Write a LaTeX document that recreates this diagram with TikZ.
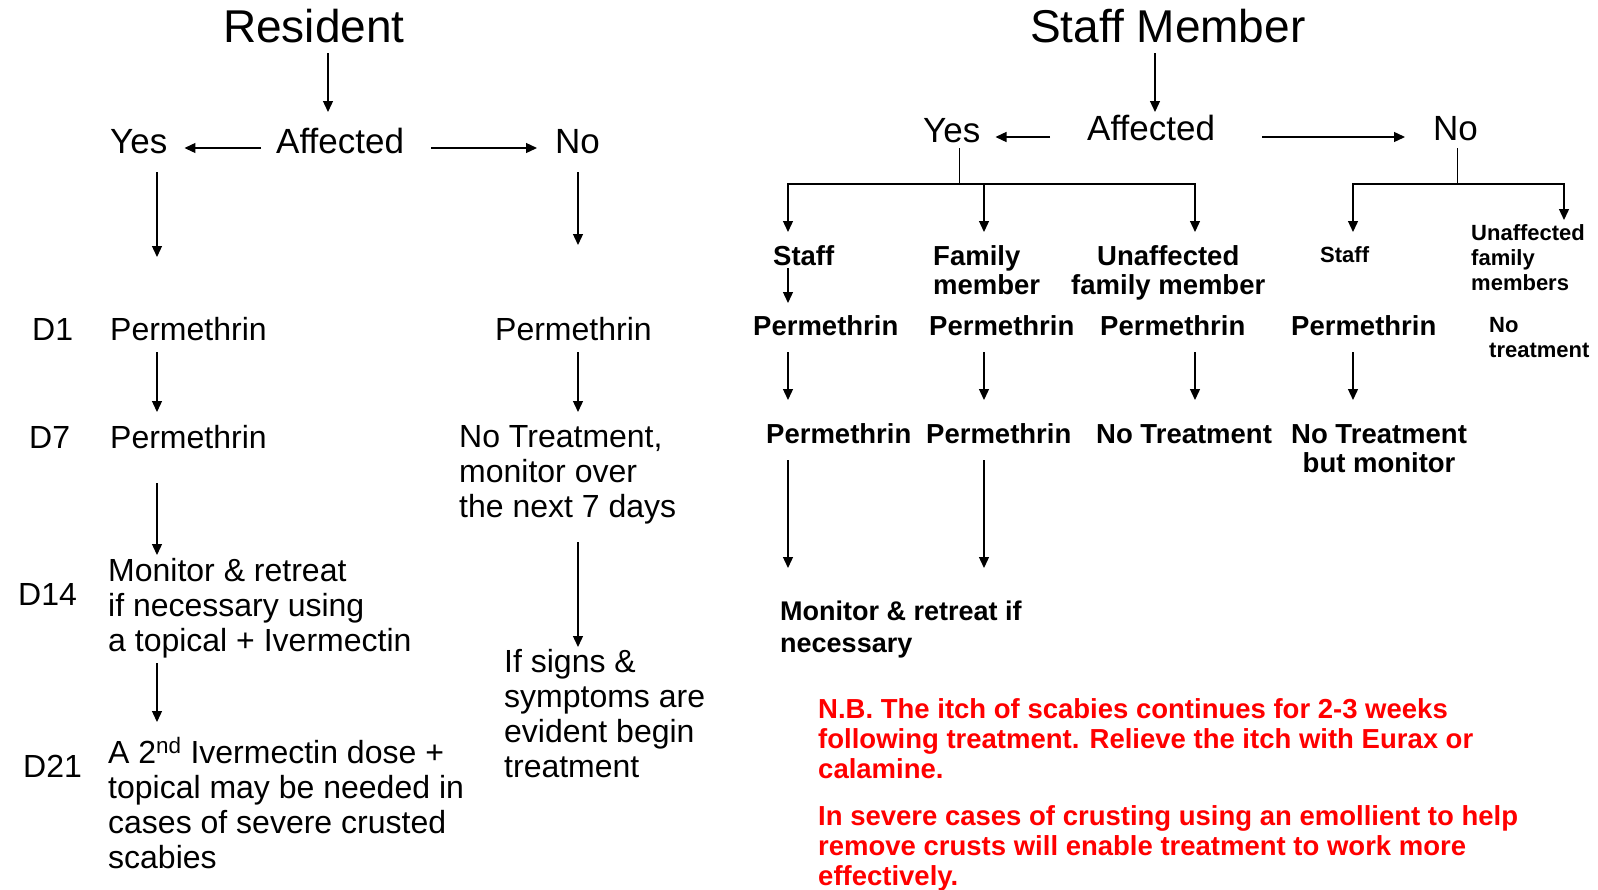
\documentclass[tikz,border=0pt]{standalone}
\usepackage{fontspec}
\setmainfont{Liberation Sans}
\usetikzlibrary{arrows.meta,calc}
\definecolor{Note}{HTML}{FF0000}
\newcommand{\fsz}[2]{\fontsize{#1}{#2}\selectfont}

\begin{document}
\begin{tikzpicture}[x=1pt,y=-1pt,
  every node/.style={inner sep=0pt,anchor=base west,align=left},
  title/.style={font=\fsz{46}{54}},
  big/.style={font=\fsz{35}{40}},
  txt/.style={font=\fsz{32}{35}},
  bld/.style={font=\fsz{27.5}{29}\bfseries},
  sml/.style={font=\fsz{22}{25}\bfseries},
  mon/.style={font=\fsz{27}{32}\bfseries},
  note/.style={font=\fsz{27.5}{30}\bfseries,text=Note},
  arr/.style={-{Triangle[length=11pt,width=10pt]},line width=1.3pt},
  ln/.style={line width=1.3pt}]
  \useasboundingbox[fill=white] (0,0) rectangle (1598,889);
  % columns of the vertical arrows
  \coordinate (colL) at (157,0);
  \coordinate (colN) at (578,0);
  \coordinate (colR) at (328,0);
  \coordinate (colS) at (1155,0);
  \coordinate (colA) at (788,0);
  \coordinate (colB) at (984,0);
  \coordinate (colC) at (1195,0);
  \coordinate (colD) at (1353,0);
  \coordinate (colE) at (1564,0);

  % resident (multi-line nodes sit on their last baseline)
  \node[title] (res) at (223,42) {Resident};
  \node[big] (affL) at (276,153) {Affected};
  \node[big] (yesL) at (110,153) {Yes};
  \node[big] (noL) at (555,153) {No};
  \node[txt] (d1) at (32,340) {D1};
  \node[txt] (p1L) at (110,340) {Permethrin};
  \node[txt] (p1N) at (495,340) {Permethrin};
  \node[txt] (d7) at (29,448) {D7};
  \node[txt] (p7L) at (110,448) {Permethrin};
  \node[txt] (ntN) at (459,517) {No Treatment,\\monitor over\\the next 7 days};
  \node[txt] (d14) at (18,605) {D14};
  \node[txt] (m14) at (108,651) {Monitor \& retreat\\if necessary using\\a topical + Ivermectin};
  \node[txt] (d21) at (23,777) {D21};
  \node[txt] (m21) at (108,868) {A 2\textsuperscript{nd} Ivermectin dose +\\topical may be needed in\\cases of severe crusted\\scabies};
  \node[txt] (sgN) at (504,777) {If signs \&\\symptoms are\\evident begin\\treatment};

  \draw[arr] ([yshift=-11pt]res.base -| colR) -- ([yshift=41pt]affL.base -| colR);
  \draw[arr] ([xshift=-15pt,yshift=5pt]affL.base west) -- ([xshift=17pt,yshift=5pt]yesL.base east);
  \draw[arr] ([xshift=27pt,yshift=5pt]affL.base east) -- ([xshift=-18pt,yshift=5pt]noL.base west);
  \draw[arr] ([yshift=-19pt]yesL.base -| colL) -- ([yshift=83pt]p1L.base -| colL);
  \draw[arr] ([yshift=-19pt]noL.base -| colN) -- ([yshift=95pt]p1N.base -| colN);
  \draw[arr] ([yshift=-12pt]p1L.base -| colL) -- ([yshift=36pt]p7L.base -| colL);
  \draw[arr] ([yshift=-12pt]p1N.base -| colN) -- ([yshift=105pt]ntN.base -| colN);
  \draw[arr] ([yshift=-35pt]p7L.base -| colL) -- ([yshift=96pt]m14.base -| colL);
  \draw[arr] ([yshift=-25pt]ntN.base -| colN) -- ([yshift=130pt]sgN.base -| colN);
  \draw[arr] ([yshift=-12pt]m14.base -| colL) -- ([yshift=146pt]m21.base -| colL);

  % staff member
  \node[title] (stf) at (1030,42) {Staff Member};
  \node[big] (affR) at (1087,140) {Affected};
  \node[big] (yesR) at (923,142) {Yes};
  \node[big] (noR) at (1433,140) {No};
  \node[bld] (staffA) at (773,265) {Staff};
  \node[bld] (famA) at (933,294) {Family\\member};
  \node[bld,align=center] (unfA) at (1071,294) {Unaffected\\family member};
  \node[sml] (staffB) at (1320,262) {Staff};
  \node[sml] (unfB) at (1471,290) {Unaffected\\family\\members};
  \node[bld] (pA1) at (753,335) {Permethrin};
  \node[bld] (pB1) at (929,335) {Permethrin};
  \node[bld] (pC1) at (1100,335) {Permethrin};
  \node[bld] (pD1) at (1291,335) {Permethrin};
  \node[sml] (ntE) at (1489,357) {No\\treatment};
  \node[bld] (pA2) at (766,443) {Permethrin};
  \node[bld] (pB2) at (926,443) {Permethrin};
  \node[bld] (ntC2) at (1096,443) {No Treatment};
  \node[bld,align=center] (ntD2) at (1291,472) {No Treatment\\but monitor};
  \node[mon] (monR) at (780,652) {Monitor \& retreat if\\necessary};
  \node[note] (nb) at (818,778) {N.B. The itch of scabies continues for 2-3 weeks\\following treatment. Relieve the itch with Eurax or\\calamine.};
  \node[note] (sev) at (818,885) {In severe cases of crusting using an emollient to help\\remove crusts will enable treatment to work more\\effectively.};

  \draw[arr] ([yshift=-11pt]stf.base -| colS) -- ([yshift=28pt]affR.base -| colS);
  \draw[arr] ([xshift=-37pt,yshift=3pt]affR.base west) -- ([xshift=15pt,yshift=5pt]yesR.base east);
  \draw[arr] ([xshift=47pt,yshift=3pt]affR.base east) -- ([xshift=-28pt,yshift=3pt]noR.base west);
  \coordinate (yfork) at ([xshift=8pt,yshift=-42pt]yesR.base);
  \coordinate (nfork) at ([xshift=2pt,yshift=-44pt]noR.base);
  \draw[ln] ([xshift=8pt,yshift=-6pt]yesR.base) -- (yfork);
  \draw[arr] (yfork) -| ([yshift=33pt]staffA.base -| colA);
  \draw[arr] (yfork) -| ([yshift=62pt]famA.base -| colB);
  \draw[arr] (yfork) -| ([yshift=62pt]unfA.base -| colC);
  \draw[ln] ([xshift=2pt,yshift=-8pt]noR.base) -- (nfork);
  \draw[arr] (nfork) -| ([yshift=30pt]staffB.base -| colD);
  \draw[arr] (nfork) -| ([yshift=70pt]unfB.base -| colE);
  \draw[arr] ([yshift=-3pt]staffA.base -| colA) -- ([yshift=32pt]pA1.base -| colA);
  \draw[arr] ([yshift=-17pt]pA1.base -| colA) -- ([yshift=43pt]pA2.base -| colA);
  \draw[arr] ([yshift=-17pt]pB1.base -| colB) -- ([yshift=43pt]pB2.base -| colB);
  \draw[arr] ([yshift=-17pt]pC1.base -| colC) -- ([yshift=43pt]ntC2.base -| colC);
  \draw[arr] ([yshift=-17pt]pD1.base -| colD) -- ([yshift=72pt]ntD2.base -| colD);
  \draw[arr] ([yshift=-17pt]pA2.base -| colA) -- ([yshift=84pt]monR.base -| colA);
  \draw[arr] ([yshift=-17pt]pB2.base -| colB) -- ([yshift=84pt]monR.base -| colB);
\end{tikzpicture}
\end{document}
